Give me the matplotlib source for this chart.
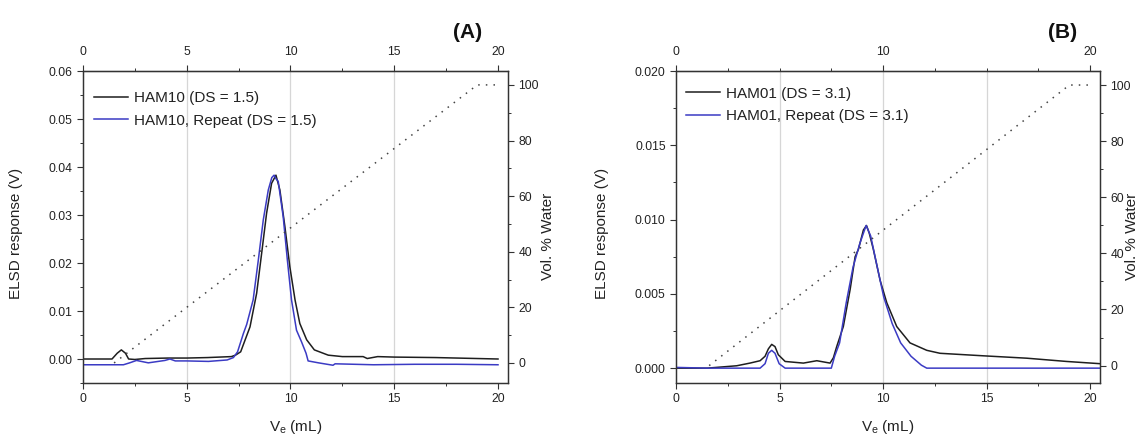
import numpy as np
import matplotlib
matplotlib.use("Agg")
import matplotlib.pyplot as plt
from matplotlib.ticker import MultipleLocator, FormatStrFormatter

plt.rcParams["font.family"] = ["Liberation Sans", "DejaVu Sans"]
plt.rcParams["mathtext.default"] = "regular"

# panel A: HAM10
a_black_x = [0, 1.4, 1.65, 1.85, 2.05, 2.2, 2.5, 3.0, 4.1, 5.0, 6.0, 7.15, 7.35, 7.6, 8.05,
             8.37, 8.61, 8.85, 9.09, 9.3, 9.49, 9.73, 9.97, 10.22, 10.45, 10.78, 11.15, 11.82,
             12.5, 13.5, 13.7, 14.2, 15, 17, 19, 20]
a_black_y = [0.0, 0.0, 0.0012, 0.0019, 0.0012, 0.0, -0.0001, 0.0001, 0.0002, 0.0002, 0.0003,
             0.0005, 0.0008, 0.0015, 0.0067, 0.0137, 0.022, 0.0304, 0.0366, 0.0383, 0.0352,
             0.0276, 0.0192, 0.0123, 0.0074, 0.004, 0.0019, 0.0008, 0.0005, 0.0005, 0.0001,
             0.0005, 0.0004, 0.0003, 0.0001, 0.0]
a_blue_x = [0, 1.95, 2.25, 2.58, 3.15, 3.95, 4.19, 4.45, 5.0, 6.05, 6.95, 7.25, 7.45, 7.73,
            7.89, 8.2, 8.45, 8.69, 8.93, 9.1, 9.21, 9.31, 9.41, 9.65, 9.85, 10.05, 10.29,
            10.53, 10.75, 10.85, 11.35, 12.05, 12.15, 14, 16, 18, 20]
a_blue_y = [-0.0012, -0.0012, -0.0008, -0.0003, -0.0008, -0.0003, 0.0, -0.0004, -0.0004,
            -0.0005, -0.0002, 0.0003, 0.0015, 0.0053, 0.0072, 0.0123, 0.0206, 0.029, 0.0352,
            0.0378, 0.0383, 0.0375, 0.037, 0.0296, 0.0206, 0.0123, 0.006, 0.0036, 0.0012,
            -0.0004, -0.0008, -0.0013, -0.001, -0.0012, -0.0011, -0.0011, -0.0012]

# panel B: HAM01
b_black_x = [0, 1.5, 2.93, 3.57, 4.06, 4.3, 4.46, 4.62, 4.78, 4.94, 5.27, 6.15, 6.8, 7.44,
             7.6, 7.76, 8.08, 8.41, 8.65, 8.81, 9.05, 9.2, 9.33, 9.53, 9.86, 10.18, 10.66,
             11.3, 12.11, 12.75, 13.24, 14.85, 16.94, 18.87, 20.48]
b_black_y = [0.0, 0.0, 0.00016, 0.00034, 0.0005, 0.0008, 0.0013, 0.0016, 0.00145, 0.0009,
             0.00045, 0.00034, 0.0005, 0.00034, 0.0007, 0.00145, 0.0028, 0.0053, 0.0075,
             0.008, 0.0093, 0.0096, 0.0091, 0.008, 0.0059, 0.0044, 0.0028, 0.0017, 0.0012,
             0.001, 0.00096, 0.00083, 0.00067, 0.00045, 0.0003]
b_blue_x = [0, 1.5, 4.06, 4.3, 4.46, 4.62, 4.78, 4.98, 5.27, 7.5, 7.66, 7.9, 8.22, 8.55,
            8.88, 9.18, 9.4, 9.72, 10.03, 10.44, 10.85, 11.35, 11.85, 12.11, 20.48]
b_blue_y = [0.00005, 0.0, 0.0, 0.0003, 0.001, 0.0012, 0.001, 0.0003, 0.0, 0.0, 0.0008, 0.0017,
            0.0044, 0.0068, 0.0084, 0.0096, 0.0089, 0.0068, 0.0048, 0.003, 0.0017, 0.0008,
            0.0002, 0.0, 0.0]

# water gradient (vol. %)
a_grad_x = [1.5, 19.0, 20]
b_grad_x = [1.6, 19.0, 20]
grad_y = [0, 100, 100]

fig = plt.figure(figsize=(11.41, 4.34), dpi=100)

TXT = "#222222"
panels = [
    dict(rect=[0.0727, 0.1175, 0.3725, 0.7189], bx=a_black_x, by=a_black_y, rx=a_blue_x,
         ry=a_blue_y, gx=a_grad_x, ylim=(-0.005, 0.06), y2lim=(-7.2, 105), ymaj=0.01,
         fmt="%.2f", top_ticks=[0, 5, 10, 15, 20], lab=("HAM10 (DS = 1.5)", "HAM10, Repeat (DS = 1.5)"),
         leg=(0.026, 0.935), ylx=-0.14, y2lx=1.078, tag="(A)", tagx=468),
    dict(rect=[0.5925, 0.1175, 0.3716, 0.7189], bx=b_black_x, by=b_black_y, rx=b_blue_x,
         ry=b_blue_y, gx=b_grad_x, ylim=(-0.001, 0.020), y2lim=(-6.2, 105), ymaj=0.005,
         fmt="%.3f", top_ticks=[0, 10, 20], lab=("HAM01 (DS = 3.1)", "HAM01, Repeat (DS = 3.1)"),
         leg=(0.024, 0.95), ylx=-0.158, y2lx=1.058, tag="(B)", tagx=1063),
]

for p in panels:
    ax = fig.add_axes(p["rect"])
    ax.set_xlim(0, 20.48)
    ax.set_ylim(*p["ylim"])
    for g in (5, 10, 15):
        ax.axvline(g, color="#d6d6d6", lw=0.9, zorder=0)
    ax.plot(p["bx"], p["by"], color="#1e1e1e", lw=1.1, label=p["lab"][0])
    ax.plot(p["rx"], p["ry"], color="#3b3bc4", lw=1.1, label=p["lab"][1])
    ax.xaxis.set_major_locator(MultipleLocator(5))
    ax.xaxis.set_minor_locator(MultipleLocator(2.5))
    ax.yaxis.set_major_locator(MultipleLocator(p["ymaj"]))
    ax.yaxis.set_minor_locator(MultipleLocator(p["ymaj"] / 2))
    ax.yaxis.set_major_formatter(FormatStrFormatter(p["fmt"]))
    ax.set_xlabel(r"V$_e$ (mL)", fontsize=11, color=TXT)
    ax.xaxis.set_label_coords(0.5, -0.112)
    ax.xaxis.label.set_va("top")
    ax.set_ylabel("ELSD response (V)", fontsize=11, color=TXT)
    ax.yaxis.set_label_coords(p["ylx"], 0.48)

    ax2 = ax.twinx()
    ax2.set_ylim(*p["y2lim"])
    ax2.plot(p["gx"], grad_y, color="#444444", lw=1.1, ls=(0, (1, 4)))
    ax2.yaxis.set_major_locator(MultipleLocator(20))
    ax2.yaxis.set_minor_locator(MultipleLocator(10))
    ax2.set_ylabel("Vol. % Water", fontsize=11, color=TXT)
    ax2.yaxis.set_label_coords(p["y2lx"], 0.47)

    axt = ax.secondary_xaxis("top")
    axt.set_xticks(p["top_ticks"])
    axt.xaxis.set_minor_locator(MultipleLocator(2.5))

    for a in (ax, ax2, axt):
        a.tick_params(which="major", direction="out", length=4.5, width=0.8, colors="#333333",
                      labelcolor=TXT, labelsize=8.7, pad=3)
        a.tick_params(which="minor", direction="out", length=2.5, width=0.7, colors="#333333")
    axt.tick_params(which="major", pad=5)
    for a in (ax, ax2):
        for s in a.spines.values():
            s.set_color("#333333")
            s.set_linewidth(0.9)
    axt.spines["top"].set_color("#333333")

    ax.legend(loc="upper left", bbox_to_anchor=p["leg"], frameon=False, fontsize=11,
              handlelength=2.2, handletextpad=0.4, labelspacing=0.55, borderpad=0,
              borderaxespad=0, labelcolor=TXT)

    fig.text(p["tagx"] / 1141, 1 - 32 / 434, p["tag"], ha="center", va="center",
             fontsize=15, fontweight="bold", color="#111111")

fig.savefig("out.png", dpi=100)
